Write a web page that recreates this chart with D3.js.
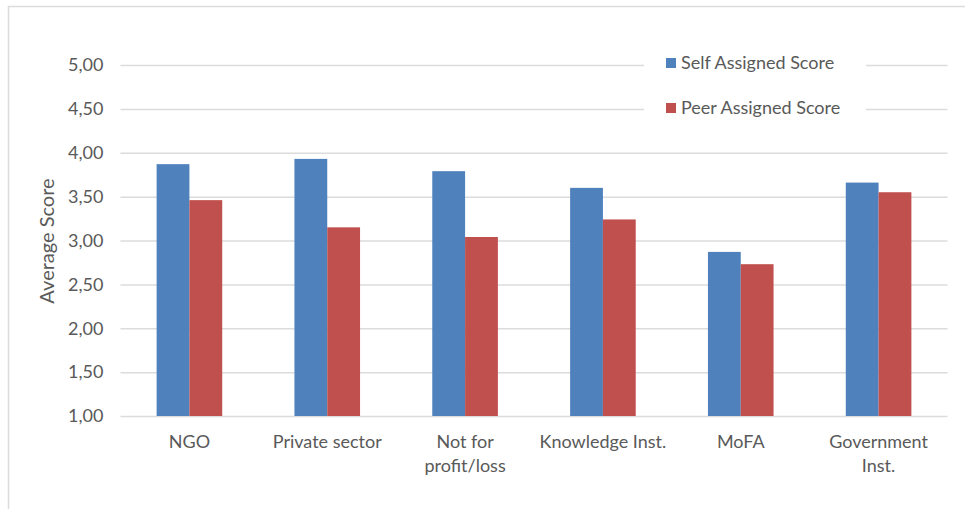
<!DOCTYPE html>
<html>
<head>
<meta charset="utf-8">
<script src="https://cdn.jsdelivr.net/npm/d3@7"></script>
<style>
  html, body { margin: 0; padding: 0; background: #fff; }
  svg { display: block; font-family: Lato, "Open Sans", sans-serif; }
</style>
</head>
<body>
<svg id="chart" width="965" height="509"></svg>
<script>
const categories = ["NGO", "Private sector", "Not for profit/loss", "Knowledge Inst.", "MoFA", "Government Inst."];
const tickLabels = [["NGO"], ["Private sector"], ["Not for", "profit/loss"], ["Knowledge Inst."], ["MoFA"], ["Government", "Inst."]];
const seriesNames = ["Self Assigned Score", "Peer Assigned Score"];
const selfScores = [3.87, 3.93, 3.79, 3.60, 2.87, 3.66];
const peerScores = [3.46, 3.15, 3.04, 3.24, 2.73, 3.55];
const yTicks = [1, 1.5, 2, 2.5, 3, 3.5, 4, 4.5, 5];
const colors = ["#4F81BD", "#C0504D"];

const svg = d3.select("#chart");
const textColor = "#595959";
const gridColor = "#dcdcdc";

// chart border
svg.append("path")
  .attr("d", "M8.5,520 V6.5 H975")
  .attr("fill", "none")
  .attr("stroke", gridColor)
  .attr("stroke-width", 1.5);

const plot = { left: 120.5, right: 947.5, top: 65, bottom: 416 };

const x = d3.scaleBand()
  .domain(categories)
  .range([plot.left, plot.right])
  .paddingInner(0.524)
  .paddingOuter(0.262);

const xSub = d3.scaleBand()
  .domain(seriesNames)
  .range([0, x.bandwidth()]);

const y = d3.scaleLinear()
  .domain([1, 5])
  .range([plot.bottom, plot.top]);

// y axis with gridlines
const yAxis = d3.axisLeft(y)
  .tickValues(yTicks)
  .tickSize(-(plot.right - plot.left))
  .tickPadding(17)
  .tickFormat(d => d3.format(".2f")(d).replace(".", ","));

const yg = svg.append("g")
  .attr("transform", `translate(${plot.left},0)`)
  .call(yAxis);
yg.select(".domain").remove();
yg.selectAll(".tick line").attr("stroke", gridColor).attr("stroke-width", 1.5);
yg.selectAll(".tick text")
  .attr("fill", textColor)
  .style("font-size", "18px")
  .style("font-family", "Lato, 'Open Sans', sans-serif");

// bars
const rows = categories.map((c, i) => ({ cat: c, values: [selfScores[i], peerScores[i]] }));
const groups = svg.append("g").selectAll("g")
  .data(rows)
  .join("g")
  .attr("transform", d => `translate(${x(d.cat)},0)`);

groups.selectAll("rect")
  .data(d => d.values.map((v, k) => ({ key: seriesNames[k], v, k })))
  .join("rect")
  .attr("x", d => xSub(d.key))
  .attr("width", xSub.bandwidth())
  .attr("y", d => y(d.v))
  .attr("height", d => y(1) - y(d.v))
  .attr("fill", d => colors[d.k]);

// x axis labels
const xAxis = d3.axisBottom(x).tickSize(0).tickFormat("");
const xg = svg.append("g")
  .attr("transform", `translate(0,${plot.bottom})`)
  .call(xAxis);
xg.select(".domain").remove();
xg.selectAll(".tick").each(function(d, i) {
  const t = d3.select(this).append("text")
    .attr("fill", textColor)
    .attr("text-anchor", "middle")
    .style("font-size", "18px")
    .style("font-family", "Lato, 'Open Sans', sans-serif");
  tickLabels[i].forEach((line, j) => {
    t.append("tspan").attr("x", 0).attr("y", 32 + j * 24).text(line);
  });
});

// y axis title
svg.append("text")
  .attr("transform", "translate(54,241) rotate(-90)")
  .attr("text-anchor", "middle")
  .attr("fill", textColor)
  .style("font-size", "20px")
  .text("Average Score");

// legend
const legend = svg.append("g");
legend.append("rect")
  .attr("x", 644).attr("y", 44).attr("width", 222).attr("height", 82)
  .attr("fill", "#fff");
const li = legend.selectAll("g.item")
  .data(seriesNames)
  .join("g")
  .attr("class", "item")
  .attr("transform", (d, i) => `translate(666,${58 + i * 45})`);
li.append("rect")
  .attr("width", 10).attr("height", 10)
  .attr("fill", (d, i) => colors[i]);
li.append("text")
  .attr("x", 15).attr("y", 5).attr("dy", "0.35em")
  .attr("fill", textColor)
  .style("font-size", "18px")
  .text(d => d);
</script>
</body>
</html>
